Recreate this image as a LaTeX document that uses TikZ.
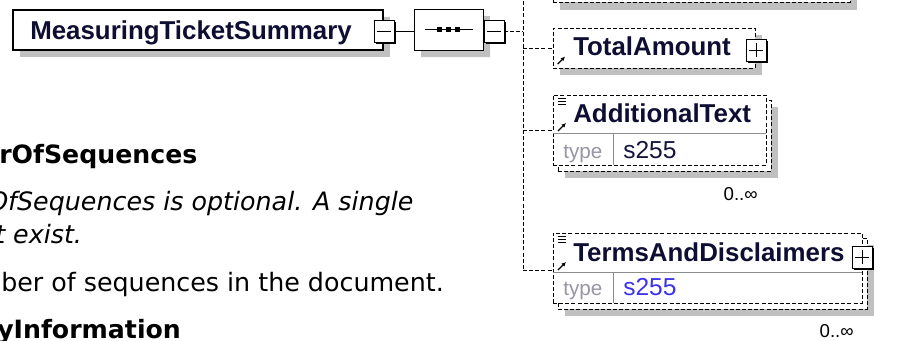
\documentclass[tikz,border=0pt]{standalone}
\usepackage{fontspec}
\setmainfont{Liberation Sans}
\newfontfamily\verd{DejaVu Sans}
\usetikzlibrary{shapes.misc,shadows,arrows.meta}
\definecolor{lblc}{RGB}{14,14,50}
\definecolor{shadowgray}{RGB}{192,192,192}
\definecolor{typegray}{RGB}{150,150,165}
\definecolor{sepgray}{RGB}{140,140,140}
\definecolor{valdark}{RGB}{20,20,60}
\definecolor{valblue}{RGB}{60,50,240}
\tikzset{
  lbl/.style={font=\fontsize{19.4pt}{22pt}\selectfont\bfseries, text=lblc, inner sep=0pt, anchor=base west},
  dsh/.style={draw=black, line width=0.75pt, dash pattern=on 3pt off 1.6pt},
  gshadow/.style={drop shadow={shadow xshift=5.25pt, shadow yshift=-5.25pt, fill=shadowgray, opacity=1}},
  mainbox/.style={draw=black, line width=1.1pt, fill=white, inner sep=0pt, outer sep=0pt, anchor=north west, gshadow},
  elbox/.style={dsh, fill=white, inner sep=0pt, outer sep=0pt, anchor=north west},
  iconbox/.style={draw=black, line width=0.75pt, fill=white, inner sep=0pt, outer sep=0pt,
    minimum width=15pt, minimum height=16.5pt,
    drop shadow={shadow xshift=1.3pt, shadow yshift=-1.3pt, fill=black, opacity=1}},
  seqshape/.style={chamfered rectangle, chamfered rectangle xsep=6pt, chamfered rectangle ysep=6pt,
    draw=black, line width=0.75pt, fill=white, inner sep=0pt, outer sep=0pt,
    minimum width=51.75pt, minimum height=30.75pt, gshadow},
  typet/.style={font=\fontsize{15.5pt}{18pt}\selectfont, text=typegray, anchor=base west, inner sep=0pt},
  valt/.style={font=\fontsize{18.4pt}{20pt}\selectfont, anchor=base west, inner sep=0pt},
  occ/.style={font=\fontsize{14pt}{16pt}\selectfont, text=black, anchor=base east, inner sep=0pt},
  body/.style={font=\verd\fontsize{19pt}{22pt}\selectfont, text=black, anchor=base west, inner sep=0pt},
  itl/.style={font=\verd\itshape\fontsize{19pt}{22pt}\selectfont, text=black, anchor=base west, inner sep=0pt},
  hdr/.style={font=\verd\bfseries\fontsize{18.9pt}{22pt}\selectfont, text=black, anchor=base west, inner sep=0pt},
  conn/.style={dsh},
}
\begin{document}
\begin{tikzpicture}[x=0.75pt,y=-0.75pt]
\useasboundingbox (0,0) rectangle (921,340);
\clip (0,0) rectangle (921,340);
\fill[white] (0,0) rectangle (921,340);

% ---- left text ----
\node[hdr] (h1) at (-1,163) {rOfSequences};
\node[itl] (i1) at (-12,210) {OfSequences is optional. A single};
\node[itl] (i2) at (-5,243) {t exist.};
\node[body] (b1) at (1,291) {ber of sequences in the document.};
\node[hdr] (h2) at (-3,338) {yInformation};

% ---- partial top element ----
\fill[shadowgray] (560,-20) rectangle (857,10);
\node[elbox, minimum width=222.75pt, minimum height=24pt] (topel) at (553,-30) {};

% ---- main element ----
\node[mainbox, minimum width=277.5pt, minimum height=30pt] (main) at (13,10) {};
\node[lbl] (mainlbl) at (30,39) {MeasuringTicketSummary};
\node[iconbox] (mmin) at (384,31) {};
\draw[line width=0.75pt] ([xshift=-5.5pt]mmin.center) -- ([xshift=5.5pt]mmin.center);

% ---- sequence compositor ----
\node[seqshape] (seq) at (448.5,29.5) {};
\draw[line width=0.75pt] ([xshift=-17.5pt]seq.center) -- ([xshift=18pt]seq.center);
\foreach \dx in {-7,0,7} {
  \fill ([xshift=\dx pt]seq.center) +(-1.9pt,-1.9pt) rectangle +(1.9pt,1.9pt);
}
\node[iconbox] (smin) at (494,31) {};
\draw[line width=0.75pt] ([xshift=-5.5pt]smin.center) -- ([xshift=5.5pt]smin.center);
\draw[line width=0.75pt] (mmin.east) -- (mmin.east -| seq.west);

% ---- vertical connector ----
\coordinate (vtop) at (523,-5);
\coordinate (vbot) at (523,270);
\draw[conn] (smin.east) -- (smin.east -| vtop);
\draw[conn] (vtop) -- (vbot);

% ---- TotalAmount ----
\node[elbox, gshadow, minimum width=151.5pt, minimum height=30pt] (ta) at (553,28) {};
\node[lbl] (talbl) at (573,55) {TotalAmount};
\draw[-{Latex[length=3.2pt,width=3.2pt]}, line width=0.9pt] ([xshift=3.5pt,yshift=3pt]ta.south west) -- ([xshift=9pt,yshift=8.5pt]ta.south west);
\node[iconbox] (tplus) at (756,50) {};
\draw[line width=0.75pt] ([xshift=-5.5pt]tplus.center) -- ([xshift=5.5pt]tplus.center);
\draw[line width=0.75pt] ([yshift=-5.5pt]tplus.center) -- ([yshift=5.5pt]tplus.center);
\draw[conn] (vtop |- ta.west) -- (ta.west);

% ---- AdditionalText ----
\node[elbox, gshadow, minimum width=159.75pt, minimum height=53.25pt] (atback) at (558,100) {};
\node[elbox, minimum width=159.75pt, minimum height=52.5pt] (at) at (553,95) {};
\draw[sepgray, line width=0.75pt] (553,133) -- (766,133);
\draw[sepgray, line width=0.75pt] (613,133) -- (613,165);
\node[lbl] (atlbl) at (573,122) {AdditionalText};
\node[typet] (attype) at (563,158) {type};
\node[valt, text=valdark] (atval) at (623,158) {s255};
\node[occ] (atocc) at (758,200) {0..∞};
\foreach \yy in {98,101,104} { \draw[line width=0.75pt] (558,\yy) -- (566,\yy); }
\draw[-{Latex[length=3.2pt,width=3.2pt]}, line width=0.9pt] (558,131) -- (566,123);
\draw[conn] (vtop |- at.west) -- (at.west);

% ---- TermsAndDisclaimers ----
\node[elbox, gshadow, minimum width=231.75pt, minimum height=53.25pt] (tdback) at (558,238) {};
\node[elbox, minimum width=231.75pt, minimum height=52.5pt] (td) at (553,233) {};
\draw[sepgray, line width=0.75pt] (553,272) -- (862,272);
\draw[sepgray, line width=0.75pt] (613,272) -- (613,303);
\node[lbl] (tdlbl) at (573,261) {TermsAndDisclaimers};
\node[typet] (tdtype) at (563,295) {type};
\node[valt, text=valblue] (tdval) at (623,295) {s255};
\node[occ] (tdocc) at (854,337) {0..∞};
\foreach \yy in {236,239,242} { \draw[line width=0.75pt] (558,\yy) -- (566,\yy); }
\draw[-{Latex[length=3.2pt,width=3.2pt]}, line width=0.9pt] (558,270) -- (566,262);
\node[iconbox] (tdplus) at (862,257) {};
\draw[line width=0.75pt] ([xshift=-5.5pt]tdplus.center) -- ([xshift=5.5pt]tdplus.center);
\draw[line width=0.75pt] ([yshift=-5.5pt]tdplus.center) -- ([yshift=5.5pt]tdplus.center);
\draw[conn] (vbot) -- (td.west |- vbot);
\end{tikzpicture}
\end{document}
